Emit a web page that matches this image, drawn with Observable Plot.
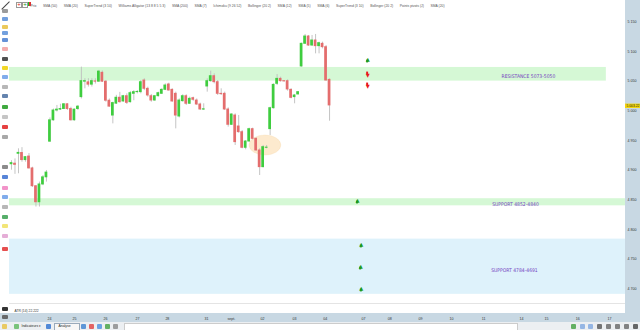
<!DOCTYPE html>
<html><head><meta charset="utf-8">
<script src="https://cdn.jsdelivr.net/npm/d3@7"></script>
<script src="https://cdn.jsdelivr.net/npm/@observablehq/plot@0.6"></script>
<style>
html,body{margin:0;padding:0;background:#fff;}
#wrap{position:relative;width:640px;height:330px;overflow:hidden;}
.a{position:absolute;}
#chart{position:absolute;left:0;top:0;width:640px;height:330px;}
#chart svg{position:absolute;left:0;top:0;}
</style></head><body>
<div id="wrap">
  <div class="a" style="left:625px;top:0;width:15px;height:322px;background:#c8d8e3"></div>
  <div class="a" style="left:0;top:313px;width:625px;height:9px;background:#c8d8e3"></div>
  <div class="a" style="left:0;top:322px;width:640px;height:8px;background:#eceff2"></div>
  <div class="a" style="left:9px;top:303px;width:616px;height:1px;background:#e4e4e4"></div>
  <div class="a" style="left:124px;top:323px;width:392px;height:6px;background:#fff;border:0.5px solid #ccc"></div>
  <div class="a" style="left:54px;top:322.5px;width:24px;height:6.5px;background:#f7f7f7;border:0.5px solid #9ab"></div>
  <div id="icons"></div>
  <div id="chart"></div>
</div>
<script>
// ---- candle data (CAC 40, hourly, 20 Aug - 3 Sept) ----
const open = [4910,4911,4927.6,4929,4917,4923,4903,4873,4846,4876,4888,4948,4984,5000.5,5002,5003,5011,5003,4984,5003,
  5023,5049,5048,5044,5049.5,5049,5064,5049,5017,4992,5012,5022,5015.7,5024.6,5014.5,5028.6,5031.4,5031.4,5051,5037,
  5024.6,5017.3,5024.6,5028.6,5035.3,5044.3,5035.3,5028.6,4990.4,5016.2,5024.6,5011.8,5021.3,5017.3,5010.6,5002,5040.9,5049.9,5058.3,5048.2,
  5028.6,5028.6,5002.2,4976.4,4992.1,4973.6,4964,4937.7,4948.3,4969.1,4952.8,4933.2,4905.1,4937.7,4969.1,5004.4,5045.4,5053.8,5049.9,5049.9,
  5035.3,5023,5027.5,5074.6,5112.8,5125.1,5109.9,5118.4,5108.8,5112.8,5107.1,5052.1];
const high = [4916,4919,4936,4938,4923,4928,4905,4874,4880,4891,4899.5,4988,5003,5009,5011,5012,5012,5006,5003,5009,
  5073.5,5054,5054,5054,5054,5068,5067,5051,5020,5014.5,5026,5031,5026,5028.6,5032.5,5034,5034,5051,5054,5039.8,
  5027.5,5025.8,5031.4,5037,5045.4,5046.5,5037,5031.4,5020,5027,5027,5023,5023,5020,5012.9,5011.8,5053.8,5066.7,5062.2,5051,
  5037,5031.4,5005,4994.9,4994.9,4992.1,4966.8,4950,4970.8,4970.8,4954.5,4936,4941.6,4941.6,5006.1,5045.4,5061,5056.6,5051,5052.1,
  5037,5027.5,5032.5,5113.9,5128.5,5126.8,5126.8,5128.5,5115.6,5115.6,5109.9,5053.8];
const low = [4900,4893,4894,4913.5,4913.5,4902,4871,4838,4838,4874,4880,4947,4982.5,4998,5000.5,5002,5000.5,4982.5,4982.5,5000.5,
  5020,5037,5040,5040,5045,5048,5047.6,5014.5,5006,4978,5010.6,5013,5014.5,5010.6,5012.9,5017,5028.6,5028.6,5034,5023,
  5014.5,5016,5023,5027.5,5034,5033,5014.5,4969.6,4988,5014.5,5009,5010.6,5016,5009,5000.5,5000.5,5031.4,5048.2,5045.4,5025.8,
  5025.8,5000.5,4972.5,4975.3,4941.6,4962.3,4936,4934.3,4947.2,4951.1,4932,4891.1,4904,4936,4958.4,5002.8,5042.6,5048.2,5048.2,5033.1,
  5020.2,5011.8,5026.9,5073.5,5111.6,5108.3,5108.3,5095.9,5095.9,5104.3,5049.9,4982.5];
const close = [4912,4909,4929.2,4917,4922,4903,4873,4846,4876,4888,4896,4984,5000.5,5002,5003,5011,5003,4984,5002,5007,
  5050,5050,5044,5050,5049,5066,5049,5017,5007,5013,5022,5014.5,5024.6,5013.4,5029.7,5031.4,5031.8,5048.2,5037,5025.8,
  5017.3,5024.6,5029.7,5035.3,5042.6,5034.2,5015.7,4992,5017.3,5024.6,5011.8,5020.2,5018.5,5010.6,5002.2,5002.6,5049.9,5058.3,5048.2,5028.6,
  5028,5002.2,4976.4,4993.8,4947.2,4964,4937.7,4948.3,4969.1,4952.8,4933.2,4905.1,4938.8,4938,5004.4,5043.7,5053.8,5049.9,5049.5,5035.9,
  5021.8,5025.8,5031.4,5112.8,5125.1,5109.9,5118.4,5108.8,5113.9,5107.1,5051,5009];
const lastPrice = 5003.22;

// ---- axes ----
const dayLabels = ["24","25","26","27","28","31","sept.","02","03","04","07","08","09","10","11","14","15","16","17"];
const dayPos = [10.87,18.0,26.9,36.05,44.6,55.8,62.9,71.8,81.0,89.8,100.7,108.2,117.0,125.9,135.1,145.9,153.1,162.0,171.1];
const yTicks = [4700,4750,4800,4850,4900,4950,5000,5050,5100,5150];
const xDomain = [-0.572, 175.68];
const yDomain = [4680.64, 5168.86];

// ---- zones ----
const bandLo = [5050, 4840, 4691];
const bandHi = [5073, 4852, 4784];
const bandEnd = [170.2, 175.68, 175.68];
const bandFill = ["#d5f8d5", "#d5f8d5", "#def2fb"];
const bandLabel = ["RESISTANCE 5073-5050", "SUPPORT 4852-4840", "SUPPORT 4784-4691"];
const bandLabelIdx = [147.9, 144.2, 143.9];
const bandLabelPrice = [5058.2, 4841.8, 4731];

// ---- signals (arrows) ----
const sigIdx = [101.9, 101.9, 101.9, 99.0, 100.1, 99.9, 100.1];
const sigPrice = [5083, 5062.8, 5044.3, 4845.6, 4771.6, 4734.5, 4697.5];
const sigUp = [1, 0, 0, 1, 1, 1, 1];

// ---- highlighted zone ----
const hlIdx = [68.1, 77.2];
const hlPrice = [4924.7, 4958.4];

// ---- texts ----
const legendItems = ["Prix","SMA (50)","SMA (20)","SuperTrend (3 10)","Williams Alligator (13 8 8 5 5 3)","SMA (200)","SMA (7)",
  "Ichimoku (9 26 52)","Bollinger (20 2)","SMA (12)","SMA (5)","SMA (6)","SuperTrend (3 10)","Bollinger (20 2)","Points pivots (J)","SMA (20)"];

const candles = open.map((o, i) => ({i, o, h: high[i], l: low[i], c: close[i]}));
const bands = bandLo.map((lo, k) => ({lo, hi: bandHi[k], end: bandEnd[k], fill: bandFill[k], label: bandLabel[k], lx: bandLabelIdx[k], ly: bandLabelPrice[k]}));
const sigs = sigIdx.map((x, k) => ({x, p: sigPrice[k], up: sigUp[k]}));
const GREEN = "#3fcd3f", RED = "#e46d6d";
const fr = v => String(v).replace(/^(\d)(\d{3})/, "$1 $2");
const FONT = "Liberation Sans, Arial, sans-serif";
const NARROW = "Liberation Sans Narrow, DejaVu Sans Condensed, Liberation Sans, sans-serif";
const sigColor = d => d.up ? "#1f9a1f" : "#e8191e";
const SEP = "\u00a0".repeat(7);

const chart = Plot.plot({
  width: 640, height: 330,
  marginLeft: 9, marginRight: 15, marginTop: 10, marginBottom: 30,
  style: {background: "transparent", fontSize: "3.6px", fontFamily: FONT, color: "#333", overflow: "visible"},
  color: {type: "identity"},
  x: {domain: xDomain, axis: "bottom", ticks: dayPos, tickFormat: d => dayLabels[dayPos.indexOf(d)], tickSize: 0, tickPadding: 17, label: null},
  y: {domain: yDomain, axis: "right", ticks: yTicks, tickFormat: fr, tickSize: 0, tickPadding: 2, label: null},
  marks: [
    Plot.rect(bands, {x1: xDomain[0], x2: "end", y1: "lo", y2: "hi", fill: "fill"}),
    Plot.text(bands, {x: "lx", y: "ly", text: "label", fill: "#7440bf", fontSize: 5.0, fontFamily: NARROW}),
    Plot.rect([0], {x1: hlIdx[0], x2: hlIdx[1], y1: hlPrice[0], y2: hlPrice[1], fill: "#fbdcae", fillOpacity: 0.6, stroke: "#f5cf98", strokeOpacity: 0.5, strokeWidth: 0.5, rx: 16, ry: 10}),
    Plot.ruleX(candles, {x: "i", y1: "l", y2: "h", stroke: "#bdbdbd", strokeWidth: 0.9}),
    Plot.rect(candles, {x1: d => d.i - 0.39, x2: d => d.i + 0.39, y1: d => Math.min(d.o, d.c), y2: d => Math.max(d.o, d.c),
      insetTop: -0.45, insetBottom: -0.45, fill: d => d.c >= d.o ? GREEN : RED}),
    // arrow shafts
    Plot.rect(sigs, {x1: d => d.x - 0.28, x2: d => d.x + 0.28, y1: "p", y2: "p", insetTop: -1.4, insetBottom: -1.4,
      dy: d => 0, fill: sigColor, transform: null}),
    // arrow heads
    Plot.text(sigs.filter(d => d.up), {x: "x", y: "p", text: () => "\u25B2", fill: sigColor, fontSize: 5.2, dy: -2.2, fontFamily: "DejaVu Sans"}),
    Plot.text(sigs.filter(d => !d.up), {x: "x", y: "p", text: () => "\u25BC", fill: sigColor, fontSize: 5.2, dy: 2.2, fontFamily: "DejaVu Sans"}),
    Plot.ruleY([lastPrice], {y: d => d, x1: xDomain[1], x2: xDomain[1] + 4.3, stroke: "#f3d60d", strokeWidth: 4.4, dy: -3.1}),
    Plot.text([lastPrice], {y: d => d, x: xDomain[1], text: d => fr(d.toFixed(2)), textAnchor: "start", dx: 1, dy: -3.1, fill: "#222", fontSize: 3.3}),
    Plot.text([legendItems.join(SEP)], {frameAnchor: "top-left", text: d => d, dx: 21, dy: -6, fill: "#555", fontSize: 3.4, textAnchor: "start"}),
    Plot.text(["ATR (14) 22.222"], {frameAnchor: "bottom-left", text: d => d, dx: 5, dy: 11, fill: "#333", fontSize: 3.3, textAnchor: "start"}),
    Plot.text(["Indicateurs \u25BE"], {frameAnchor: "bottom-left", text: d => d, dx: 12, dy: 26, fill: "#222", fontSize: 3.4, textAnchor: "start"}),
    Plot.text(["Analyse"], {frameAnchor: "bottom-left", text: d => d, dx: 49, dy: 26, fill: "#222", fontSize: 3.4, textAnchor: "start"})
  ]
});
document.getElementById("chart").appendChild(chart);

// ---- toolbar icons (decoration) ----
const ic = [
  [11,"#8a8a8a"],[19,"#5a8fd8"],[27,"#e8c040"],[33,"#5a8fd8"],[40,"#4a7fd0"],[49,"#f2a0a0"],[59,"#333"],[68,"#f0d000"],
  [77,"#6a9ee8"],[87,"#aaa"],[96,"#4a6fa0"],[107,"#1e9a1e"],[117,"#bbb"],[127,"#e02020"],[137,"#999"],[167,"#777"],
  [177,"#3a6fd0"],[188,"#f080c0"],[197,"#6a9ee8"],[207,"#aaa"],[217,"#3aa050"],[226,"#f0e060"],[236,"#e0a0d0"],[249,"#e03030"],
  [309,"#111"],[317,"#555"]
];
const box = document.getElementById("icons");
let html = '<div class="a" style="left:0px;top:5px;width:11px;height:0.8px;background:#444;transform:rotate(-45deg)"></div>';
for (const [y, c] of ic) html += `<div class="a" style="left:1.5px;top:${y-2.5}px;width:6px;height:4.5px;background:${c};border-radius:1px;opacity:.85"></div>`;
html += '<div class="a" style="left:16px;top:1.5px;width:4px;height:4px;border:0.5px solid #999;background:#fff"></div>';
html += '<div class="a" style="left:17.2px;top:1.7px;color:#e02020;font:6px/4px Arial">+</div>';
html += '<div class="a" style="left:22px;top:1.5px;width:4px;height:4px;border:0.5px solid #999;background:#fff"></div>';
html += '<div class="a" style="left:23.2px;top:1.7px;color:#1e9a1e;font:6px/4px Arial">+</div>';
html += '<div class="a" style="left:27.5px;top:2px;width:1.5px;height:4px;background:#1fc01f"></div><div class="a" style="left:29px;top:2px;width:1.5px;height:4px;background:#e03030"></div>';
const bt = [[2,"#e8c040"],[14,"#5cb85c"],[46,"#2a6fd0"],[81,"#3a7fd0"],[89,"#e04040"],[97,"#4a8fe0"],[105,"#40a040"],[113,"#888"],
  [571,"#40a040"],[580,"#7fa7e0"],[588,"#7fa7e0"],[597,"#555"],[606,"#666"],[615,"#666"],[624,"#666"],[633,"#444"]];
for (const [x, c] of bt) html += `<div class="a" style="left:${x}px;top:323.5px;width:5px;height:5px;background:${c};opacity:.8;border-radius:1px"></div>`;
box.innerHTML = html;
</script>
</body></html>
